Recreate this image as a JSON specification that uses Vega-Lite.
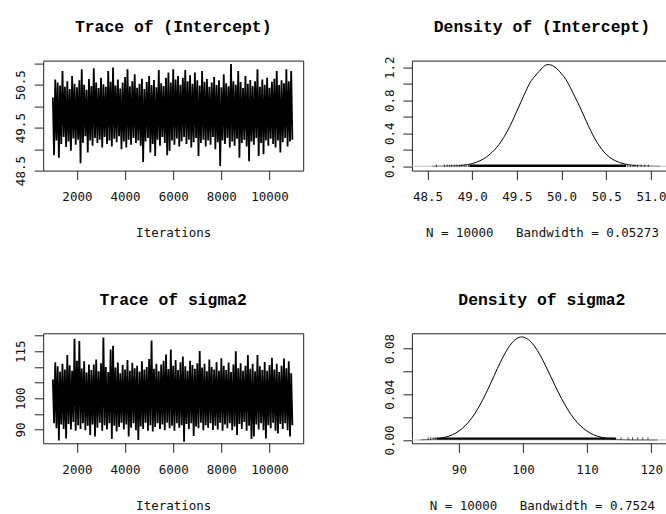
{
  "$schema": "https://vega.github.io/schema/vega-lite/v6.json",
  "background": "white",
  "padding": {"left": 14.2, "top": 17.6, "right": 0, "bottom": 0},
  "columns": 2,
  "spacing": {"row": 162.7, "column": 108.7},
  "bounds": "flush",
  "datasets": {
    "traceInt": [
      {"it":1001,"v":50.20},{"it":1051,"v":48.86},{"it":1101,"v":50.62},{"it":1151,"v":49.20},{"it":1201,"v":50.55},{"it":1251,"v":48.80},{"it":1301,"v":50.48},{"it":1351,"v":49.12},{"it":1401,"v":50.82},{"it":1451,"v":49.28},
      {"it":1501,"v":50.45},{"it":1551,"v":49.05},{"it":1601,"v":50.58},{"it":1651,"v":49.18},{"it":1701,"v":50.40},{"it":1751,"v":48.96},{"it":1801,"v":50.70},{"it":1851,"v":49.25},{"it":1901,"v":50.52},{"it":1951,"v":49.10},
      {"it":2001,"v":50.44},{"it":2051,"v":49.22},{"it":2101,"v":50.60},{"it":2151,"v":48.67},{"it":2201,"v":50.86},{"it":2251,"v":49.15},{"it":2301,"v":50.50},{"it":2351,"v":49.30},{"it":2401,"v":50.38},{"it":2451,"v":48.92},
      {"it":2501,"v":50.63},{"it":2551,"v":49.20},{"it":2601,"v":50.47},{"it":2651,"v":49.08},{"it":2701,"v":50.88},{"it":2751,"v":49.26},{"it":2801,"v":50.55},{"it":2851,"v":49.14},{"it":2901,"v":50.42},{"it":2951,"v":49.22},
      {"it":3001,"v":50.66},{"it":3051,"v":49.04},{"it":3101,"v":50.51},{"it":3151,"v":49.28},{"it":3201,"v":50.45},{"it":3251,"v":49.12},{"it":3301,"v":50.82},{"it":3351,"v":49.20},{"it":3401,"v":50.57},{"it":3451,"v":49.06},
      {"it":3501,"v":50.90},{"it":3551,"v":49.24},{"it":3601,"v":50.48},{"it":3651,"v":49.16},{"it":3701,"v":50.62},{"it":3751,"v":49.30},{"it":3801,"v":50.41},{"it":3851,"v":49.00},{"it":3901,"v":50.55},{"it":3951,"v":49.18},
      {"it":4001,"v":50.68},{"it":4051,"v":49.04},{"it":4101,"v":50.86},{"it":4151,"v":49.22},{"it":4201,"v":50.46},{"it":4251,"v":49.10},{"it":4301,"v":50.58},{"it":4351,"v":49.26},{"it":4401,"v":50.74},{"it":4451,"v":49.14},
      {"it":4501,"v":50.43},{"it":4551,"v":49.20},{"it":4601,"v":50.52},{"it":4651,"v":49.08},{"it":4701,"v":50.64},{"it":4751,"v":48.70},{"it":4801,"v":50.40},{"it":4851,"v":49.18},{"it":4901,"v":50.56},{"it":4951,"v":49.26},
      {"it":5001,"v":50.70},{"it":5051,"v":48.92},{"it":5101,"v":50.49},{"it":5151,"v":49.12},{"it":5201,"v":50.61},{"it":5251,"v":48.84},{"it":5301,"v":50.44},{"it":5351,"v":49.22},{"it":5401,"v":50.84},{"it":5451,"v":49.08},
      {"it":5501,"v":50.53},{"it":5551,"v":49.28},{"it":5601,"v":50.47},{"it":5651,"v":49.14},{"it":5701,"v":50.66},{"it":5751,"v":48.86},{"it":5801,"v":50.78},{"it":5851,"v":48.96},{"it":5901,"v":50.55},{"it":5951,"v":49.20},
      {"it":6001,"v":50.86},{"it":6051,"v":49.10},{"it":6101,"v":50.62},{"it":6151,"v":49.25},{"it":6201,"v":50.70},{"it":6251,"v":49.06},{"it":6301,"v":50.50},{"it":6351,"v":49.18},{"it":6401,"v":50.66},{"it":6451,"v":49.28},
      {"it":6501,"v":50.84},{"it":6551,"v":49.12},{"it":6601,"v":50.58},{"it":6651,"v":49.22},{"it":6701,"v":50.72},{"it":6751,"v":49.04},{"it":6801,"v":50.52},{"it":6851,"v":49.16},{"it":6901,"v":50.78},{"it":6951,"v":49.26},
      {"it":7001,"v":50.60},{"it":7051,"v":48.84},{"it":7101,"v":50.48},{"it":7151,"v":49.14},{"it":7201,"v":50.82},{"it":7251,"v":49.22},{"it":7301,"v":50.57},{"it":7351,"v":49.06},{"it":7401,"v":50.63},{"it":7451,"v":49.20},
      {"it":7501,"v":50.45},{"it":7551,"v":49.10},{"it":7601,"v":50.55},{"it":7651,"v":49.28},{"it":7701,"v":50.68},{"it":7751,"v":49.00},{"it":7801,"v":50.49},{"it":7851,"v":49.16},{"it":7901,"v":50.60},{"it":7951,"v":48.61},
      {"it":8001,"v":50.44},{"it":8051,"v":49.20},{"it":8101,"v":50.74},{"it":8151,"v":49.12},{"it":8201,"v":50.53},{"it":8251,"v":49.26},{"it":8301,"v":50.46},{"it":8351,"v":49.04},{"it":8401,"v":50.98},{"it":8451,"v":49.18},
      {"it":8501,"v":50.58},{"it":8551,"v":49.08},{"it":8601,"v":50.50},{"it":8651,"v":49.24},{"it":8701,"v":50.82},{"it":8751,"v":48.80},{"it":8801,"v":50.56},{"it":8851,"v":49.14},{"it":8901,"v":50.42},{"it":8951,"v":49.22},
      {"it":9001,"v":50.70},{"it":9051,"v":49.06},{"it":9101,"v":50.52},{"it":9151,"v":48.72},{"it":9201,"v":50.61},{"it":9251,"v":49.18},{"it":9301,"v":50.47},{"it":9351,"v":49.10},{"it":9401,"v":50.58},{"it":9451,"v":49.26},
      {"it":9501,"v":50.86},{"it":9551,"v":48.84},{"it":9601,"v":50.45},{"it":9651,"v":49.14},{"it":9701,"v":50.62},{"it":9751,"v":48.88},{"it":9801,"v":50.50},{"it":9851,"v":49.20},{"it":9901,"v":50.66},{"it":9951,"v":49.08},
      {"it":10001,"v":50.43},{"it":10051,"v":49.24},{"it":10101,"v":50.57},{"it":10151,"v":49.12},{"it":10201,"v":50.64},{"it":10251,"v":49.04},{"it":10301,"v":50.82},{"it":10351,"v":49.20},{"it":10401,"v":50.49},{"it":10451,"v":48.92},
      {"it":10501,"v":50.60},{"it":10551,"v":49.16},{"it":10601,"v":50.53},{"it":10651,"v":49.26},{"it":10701,"v":50.86},{"it":10751,"v":49.06},{"it":10801,"v":50.58},{"it":10851,"v":49.18},{"it":10901,"v":50.82},{"it":10951,"v":49.22}
    ],
    "traceSig": [
      {"it":1001,"v":106.0},{"it":1051,"v":92.0},{"it":1101,"v":111.5},{"it":1151,"v":90.4},{"it":1201,"v":110.2},{"it":1251,"v":86.5},{"it":1301,"v":108.5},{"it":1351,"v":91.6},{"it":1401,"v":111.0},{"it":1451,"v":90.2},
      {"it":1501,"v":109.2},{"it":1551,"v":87.2},{"it":1601,"v":113.8},{"it":1651,"v":91.8},{"it":1701,"v":110.5},{"it":1751,"v":90.0},{"it":1801,"v":108.8},{"it":1851,"v":92.4},{"it":1901,"v":119.0},{"it":1951,"v":89.6},
      {"it":2001,"v":112.0},{"it":2051,"v":91.4},{"it":2101,"v":118.3},{"it":2151,"v":90.2},{"it":2201,"v":109.5},{"it":2251,"v":92.0},{"it":2301,"v":111.8},{"it":2351,"v":89.8},{"it":2401,"v":108.2},{"it":2451,"v":91.2},
      {"it":2501,"v":110.8},{"it":2551,"v":88.3},{"it":2601,"v":109.0},{"it":2651,"v":91.6},{"it":2701,"v":110.8},{"it":2751,"v":87.8},{"it":2801,"v":112.4},{"it":2851,"v":90.6},{"it":2901,"v":108.6},{"it":2951,"v":92.2},
      {"it":3001,"v":111.2},{"it":3051,"v":89.6},{"it":3101,"v":119.4},{"it":3151,"v":91.4},{"it":3201,"v":110.0},{"it":3251,"v":90.0},{"it":3301,"v":108.4},{"it":3351,"v":92.0},{"it":3401,"v":115.6},{"it":3451,"v":87.0},
      {"it":3501,"v":116.8},{"it":3551,"v":91.2},{"it":3601,"v":109.8},{"it":3651,"v":89.4},{"it":3701,"v":111.4},{"it":3751,"v":90.8},{"it":3801,"v":108.0},{"it":3851,"v":92.2},{"it":3901,"v":110.6},{"it":3951,"v":90.0},
      {"it":4001,"v":109.2},{"it":4051,"v":91.6},{"it":4101,"v":112.2},{"it":4151,"v":87.8},{"it":4201,"v":108.8},{"it":4251,"v":90.6},{"it":4301,"v":111.3},{"it":4351,"v":92.0},{"it":4401,"v":109.6},{"it":4451,"v":89.8},
      {"it":4501,"v":110.4},{"it":4551,"v":86.7},{"it":4601,"v":108.5},{"it":4651,"v":91.0},{"it":4701,"v":111.8},{"it":4751,"v":90.2},{"it":4801,"v":109.2},{"it":4851,"v":92.2},{"it":4901,"v":110.0},{"it":4951,"v":89.6},
      {"it":5001,"v":112.5},{"it":5051,"v":91.4},{"it":5101,"v":118.4},{"it":5151,"v":89.4},{"it":5201,"v":109.4},{"it":5251,"v":90.8},{"it":5301,"v":111.0},{"it":5351,"v":92.0},{"it":5401,"v":108.6},{"it":5451,"v":90.2},
      {"it":5501,"v":110.8},{"it":5551,"v":91.6},{"it":5601,"v":112.0},{"it":5651,"v":89.8},{"it":5701,"v":114.0},{"it":5751,"v":92.2},{"it":5801,"v":109.3},{"it":5851,"v":90.4},{"it":5901,"v":115.6},{"it":5951,"v":91.2},
      {"it":6001,"v":110.4},{"it":6051,"v":89.6},{"it":6101,"v":112.2},{"it":6151,"v":92.0},{"it":6201,"v":109.0},{"it":6251,"v":90.6},{"it":6301,"v":111.5},{"it":6351,"v":91.4},{"it":6401,"v":113.3},{"it":6451,"v":86.1},
      {"it":6501,"v":110.2},{"it":6551,"v":91.8},{"it":6601,"v":108.8},{"it":6651,"v":90.2},{"it":6701,"v":112.0},{"it":6751,"v":92.0},{"it":6801,"v":110.6},{"it":6851,"v":88.0},{"it":6901,"v":109.4},{"it":6951,"v":91.0},
      {"it":7001,"v":111.2},{"it":7051,"v":90.4},{"it":7101,"v":115.1},{"it":7151,"v":92.2},{"it":7201,"v":109.8},{"it":7251,"v":89.8},{"it":7301,"v":111.0},{"it":7351,"v":91.4},{"it":7401,"v":108.6},{"it":7451,"v":90.6},
      {"it":7501,"v":112.4},{"it":7551,"v":92.0},{"it":7601,"v":110.0},{"it":7651,"v":89.9},{"it":7701,"v":109.2},{"it":7751,"v":91.2},{"it":7801,"v":111.6},{"it":7851,"v":90.0},{"it":7901,"v":108.8},{"it":7951,"v":92.2},
      {"it":8001,"v":112.8},{"it":8051,"v":89.6},{"it":8101,"v":110.4},{"it":8151,"v":91.6},{"it":8201,"v":109.0},{"it":8251,"v":90.4},{"it":8301,"v":111.4},{"it":8351,"v":92.0},{"it":8401,"v":108.4},{"it":8451,"v":89.8},
      {"it":8501,"v":110.8},{"it":8551,"v":91.0},{"it":8601,"v":115.0},{"it":8651,"v":88.3},{"it":8701,"v":109.6},{"it":8751,"v":91.8},{"it":8801,"v":111.2},{"it":8851,"v":90.2},{"it":8901,"v":108.8},{"it":8951,"v":92.4},
      {"it":9001,"v":110.4},{"it":9051,"v":89.6},{"it":9101,"v":113.8},{"it":9151,"v":91.2},{"it":9201,"v":109.4},{"it":9251,"v":87.0},{"it":9301,"v":111.0},{"it":9351,"v":87.8},{"it":9401,"v":108.6},{"it":9451,"v":91.6},
      {"it":9501,"v":113.8},{"it":9551,"v":90.0},{"it":9601,"v":110.2},{"it":9651,"v":92.0},{"it":9701,"v":109.0},{"it":9751,"v":89.8},{"it":9801,"v":111.6},{"it":9851,"v":87.2},{"it":9901,"v":108.8},{"it":9951,"v":91.4},
      {"it":10001,"v":110.6},{"it":10051,"v":90.4},{"it":10101,"v":112.9},{"it":10151,"v":92.2},{"it":10201,"v":109.2},{"it":10251,"v":89.6},{"it":10301,"v":111.0},{"it":10351,"v":88.8},{"it":10401,"v":108.4},{"it":10451,"v":91.8},
      {"it":10501,"v":110.4},{"it":10551,"v":90.2},{"it":10601,"v":112.7},{"it":10651,"v":92.0},{"it":10701,"v":109.6},{"it":10751,"v":89.8},{"it":10801,"v":111.8},{"it":10851,"v":87.8},{"it":10901,"v":108.0},{"it":10951,"v":91.4}
    ],
    "densInt": [
      {"x":48.55,"d":0.0003},{"x":48.60,"d":0.0006},{"x":48.65,"d":0.001},{"x":48.70,"d":0.002},{"x":48.75,"d":0.003},{"x":48.80,"d":0.005},{"x":48.85,"d":0.008},{"x":48.90,"d":0.013},{"x":48.95,"d":0.021},{"x":49.00,"d":0.032},
      {"x":49.05,"d":0.05},{"x":49.10,"d":0.074},{"x":49.15,"d":0.106},{"x":49.20,"d":0.148},{"x":49.25,"d":0.2},{"x":49.30,"d":0.265},{"x":49.35,"d":0.345},{"x":49.40,"d":0.44},{"x":49.45,"d":0.55},{"x":49.50,"d":0.67},
      {"x":49.55,"d":0.79},{"x":49.60,"d":0.91},{"x":49.65,"d":1.02},{"x":49.70,"d":1.09},{"x":49.75,"d":1.15},{"x":49.80,"d":1.21},{"x":49.85,"d":1.233},{"x":49.90,"d":1.22},{"x":49.95,"d":1.18},{"x":50.00,"d":1.12},
      {"x":50.05,"d":1.05},{"x":50.10,"d":0.95},{"x":50.15,"d":0.84},{"x":50.20,"d":0.73},{"x":50.25,"d":0.61},{"x":50.30,"d":0.49},{"x":50.35,"d":0.38},{"x":50.40,"d":0.285},{"x":50.45,"d":0.205},{"x":50.50,"d":0.145},
      {"x":50.55,"d":0.1},{"x":50.60,"d":0.068},{"x":50.65,"d":0.045},{"x":50.70,"d":0.029},{"x":50.75,"d":0.018},{"x":50.80,"d":0.011},{"x":50.85,"d":0.0065},{"x":50.90,"d":0.0038},{"x":50.95,"d":0.0022},{"x":51.00,"d":0.0012},
      {"x":51.05,"d":0.0006},{"x":51.10,"d":0.0003}
    ],
    "densSig": [
      {"x":84,"d":0.00016},{"x":85,"d":0.00034},{"x":86,"d":0.0007},{"x":87,"d":0.0014},{"x":88,"d":0.0026},{"x":89,"d":0.0046},{"x":90,"d":0.0078},{"x":91,"d":0.0125},{"x":92,"d":0.0191},{"x":93,"d":0.0277},
      {"x":94,"d":0.0382},{"x":95,"d":0.050},{"x":96,"d":0.0623},{"x":97,"d":0.0737},{"x":98,"d":0.0829},{"x":99,"d":0.0885},{"x":99.8,"d":0.090},{"x":101,"d":0.087},{"x":102,"d":0.0803},{"x":103,"d":0.0707},
      {"x":104,"d":0.0593},{"x":105,"d":0.0475},{"x":106,"d":0.0363},{"x":107,"d":0.0264},{"x":108,"d":0.0184},{"x":109,"d":0.0122},{"x":110,"d":0.0077},{"x":111,"d":0.0046},{"x":112,"d":0.0027},{"x":113,"d":0.0015},
      {"x":114,"d":0.0008},{"x":115,"d":0.0004},{"x":116,"d":0.0002},{"x":117,"d":0.0001},{"x":118,"d":0.00005},{"x":119,"d":0.00003},{"x":120,"d":0.00002},{"x":121,"d":0.00001}
    ],
    "spanInt": [{"lo": 48.97, "hi": 50.72}],
    "rugInt": [
      {"obs":48.60},{"obs":48.69},{"obs":48.72},{"obs":48.745},{"obs":48.77},{"obs":48.80},{"obs":48.83},{"obs":48.86},{"obs":48.885},{"obs":48.91},{"obs":48.93},{"obs":48.96},
      {"obs":50.74},{"obs":50.77},{"obs":50.80},{"obs":50.82},{"obs":50.85},{"obs":50.89},{"obs":50.93},{"obs":50.97}
    ],
    "spanSig": [{"lo": 86.5, "hi": 114.5}],
    "rugSig": [
      {"obs":85.2},{"obs":85.6},{"obs":86.0},{"obs":86.3},{"obs":115.3},{"obs":116.4},{"obs":117.1},{"obs":117.9},{"obs":118.7},{"obs":119.5}
    ],
    "zeroRow": [{"z": 0}]
  },
  "concat": [
    {
      "title": {"text": "Trace of (Intercept)", "offset": 25.1},
      "width": 260,
      "height": 110,
      "data": {"name": "traceInt"},
      "mark": {"type": "line", "color": "black", "strokeWidth": 1.8},
      "encoding": {
        "x": {"field": "it", "type": "quantitative",
              "scale": {"domain": [600, 11400], "nice": false, "zero": false},
              "axis": {"values": [2000, 4000, 6000, 8000, 10000], "format": "d", "title": "Iterations"}},
        "y": {"field": "v", "type": "quantitative",
              "scale": {"domain": [48.5, 51.06], "nice": false, "zero": false},
              "axis": {"values": [48.5, 49, 49.5, 50, 50.5, 51], "title": null,
                       "labelExpr": "round(datum.value * 2) % 2 == 1 ? format(datum.value, '.1f') : ''"}}
      }
    },
    {
      "title": {"text": "Density of (Intercept)", "offset": 20.5},
      "width": 260,
      "height": 110,
      "resolve": {"axis": {"x": "independent", "y": "independent"}},
      "layer": [
        {
          "data": {"name": "densInt"},
          "mark": {"type": "line", "color": "black", "strokeWidth": 1, "interpolate": "monotone"},
          "encoding": {
            "x": {"field": "x", "type": "quantitative",
                  "scale": {"domain": [48.3255, 51.234], "nice": false, "zero": false},
                  "axis": {"values": [48.5, 49, 49.5, 50, 50.5, 51], "format": ".1f",
                           "title": "N = 10000\u00a0\u00a0\u00a0Bandwidth = 0.05273"}},
            "y": {"field": "d", "type": "quantitative",
                  "scale": {"domain": [-0.052, 1.281], "nice": false, "zero": false},
                  "axis": {"values": [0, 0.2, 0.4, 0.6, 0.8, 1.0, 1.2], "title": null,
                           "labelExpr": "(datum.value < 0.05 || abs(datum.value - 0.4) < 0.05 || abs(datum.value - 0.8) < 0.05 || abs(datum.value - 1.2) < 0.05) ? format(datum.value, '.1f') : ''"}}
          }
        },
        {
          "data": {"name": "zeroRow"},
          "mark": {"type": "rule", "color": "#c4c4c4", "strokeWidth": 1},
          "encoding": {"y": {"field": "z", "type": "quantitative", "axis": null}}
        },
        {
          "data": {"name": "spanInt"},
          "mark": {"type": "rule", "color": "black", "strokeWidth": 2.4},
          "encoding": {
            "x": {"field": "lo", "type": "quantitative", "axis": null},
            "x2": {"field": "hi"},
            "y": {"datum": 0.006, "type": "quantitative", "axis": null}
          }
        },
        {
          "data": {"name": "rugInt"},
          "mark": {"type": "tick", "orient": "vertical", "color": "black", "thickness": 1, "size": 2.5},
          "encoding": {
            "x": {"field": "obs", "type": "quantitative", "axis": null},
            "y": {"datum": 0.006, "type": "quantitative", "axis": null}
          }
        }
      ]
    },
    {
      "title": {"text": "Trace of sigma2", "offset": 25.1},
      "width": 260,
      "height": 110,
      "data": {"name": "traceSig"},
      "mark": {"type": "line", "color": "black", "strokeWidth": 1.8},
      "encoding": {
        "x": {"field": "it", "type": "quantitative",
              "scale": {"domain": [600, 11400], "nice": false, "zero": false},
              "axis": {"values": [2000, 4000, 6000, 8000, 10000], "format": "d", "title": "Iterations"}},
        "y": {"field": "v", "type": "quantitative",
              "scale": {"domain": [85.63, 120.74], "nice": false, "zero": false},
              "axis": {"values": [90, 95, 100, 105, 110, 115, 120], "title": null,
                       "labelExpr": "datum.value == 90 || datum.value == 100 || datum.value == 115 ? datum.label : ''"}}
      }
    },
    {
      "title": {"text": "Density of sigma2", "offset": 25.1},
      "width": 260,
      "height": 110,
      "resolve": {"axis": {"x": "independent", "y": "independent"}},
      "layer": [
        {
          "data": {"name": "densSig"},
          "mark": {"type": "line", "color": "black", "strokeWidth": 1, "interpolate": "monotone"},
          "encoding": {
            "x": {"field": "x", "type": "quantitative",
                  "scale": {"domain": [82.67, 123.23], "nice": false, "zero": false},
                  "axis": {"values": [90, 100, 110, 120], "format": "d",
                           "title": "N = 10000\u00a0\u00a0\u00a0Bandwidth = 0.7524"}},
            "y": {"field": "d", "type": "quantitative",
                  "scale": {"domain": [-0.0029, 0.0932], "nice": false, "zero": false},
                  "axis": {"values": [0, 0.02, 0.04, 0.06, 0.08], "title": null,
                           "labelExpr": "round(datum.value * 100) % 4 == 0 ? format(datum.value, '.2f') : ''"}}
          }
        },
        {
          "data": {"name": "zeroRow"},
          "mark": {"type": "rule", "color": "#c4c4c4", "strokeWidth": 1},
          "encoding": {"y": {"field": "z", "type": "quantitative", "axis": null}}
        },
        {
          "data": {"name": "spanSig"},
          "mark": {"type": "rule", "color": "black", "strokeWidth": 2.4},
          "encoding": {
            "x": {"field": "lo", "type": "quantitative", "axis": null},
            "x2": {"field": "hi"},
            "y": {"datum": 0.0012, "type": "quantitative", "axis": null}
          }
        },
        {
          "data": {"name": "rugSig"},
          "mark": {"type": "tick", "orient": "vertical", "color": "black", "thickness": 1, "size": 2.5},
          "encoding": {
            "x": {"field": "obs", "type": "quantitative", "axis": null},
            "y": {"datum": 0.0012, "type": "quantitative", "axis": null}
          }
        }
      ]
    }
  ],
  "config": {
    "view": {"stroke": "#222", "strokeWidth": 1},
    "title": {"font": "Liberation Mono", "fontSize": 16.4, "fontWeight": "bold", "color": "black",
              "anchor": "middle", "baseline": "alphabetic", "frame": "group"},
    "axis": {"domain": false, "grid": false, "tickColor": "#222", "tickSize": 9, "tickWidth": 1,
             "labelFont": "DejaVu Sans Mono", "labelFontSize": 12.5, "labelColor": "#111",
             "titleFont": "DejaVu Sans Mono", "titleFontSize": 12.5, "titleFontWeight": "normal", "titleColor": "#111",
             "labelOverlap": false, "labelFlush": false, "labelBound": false},
    "axisX": {"labelPadding": 11, "titleY": 66, "titleBaseline": "alphabetic"},
    "axisY": {"labelAngle": 270, "labelAlign": "center", "labelBaseline": "alphabetic", "labelPadding": 9.3}
  }
}
